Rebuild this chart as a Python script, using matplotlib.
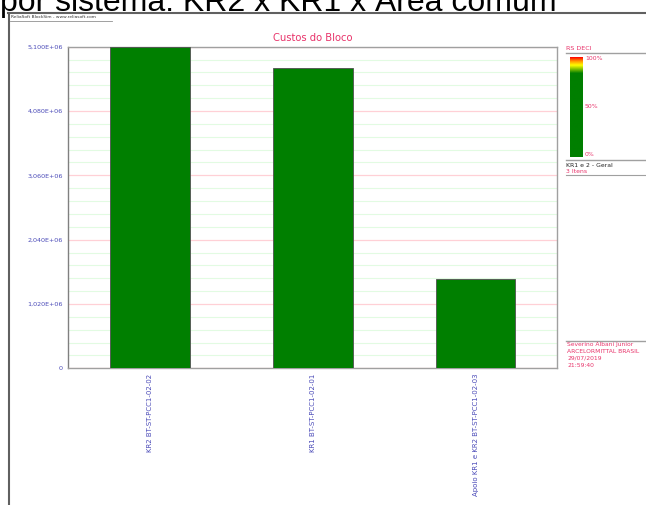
import matplotlib
matplotlib.use("Agg")
import matplotlib.pyplot as plt
import numpy as np
from matplotlib.colors import LinearSegmentedColormap
from matplotlib.lines import Line2D
from matplotlib.ticker import MultipleLocator, FuncFormatter

# block cost per system
categories = ["KR2 BT-ST-PCC1-02-02", "KR1 BT-ST-PCC1-02-01", "Apoio KR1 e KR2 BT-ST-PCC1-02-03"]
costs = [5.10e6, 4.77e6, 1.42e6]
y_ticks = [0, 1.02e6, 2.04e6, 3.06e6, 4.08e6, 5.10e6]
footer_lines = ["Severino Albani Junior", "ARCELORMITTAL BRASIL", "29/07/2019", "21:59:40"]

W, H = 646, 505
PINK = "#e8336a"
BLUE = "#4a4ab8"
GREEN = "#007f00"

fig = plt.figure(figsize=(W / 100, H / 100), dpi=100)
fig.patch.set_facecolor("white")


def px(x, y):
    # pixel coords (top-left origin) -> figure fraction
    return x / W, 1 - y / H


def hline(x0, x1, y, color="#808080", lw=1.0):
    (a, b), (c, _) = px(x0, y), px(x1, y)
    fig.add_artist(Line2D([a, c], [b, b], color=color, lw=lw))


# caption cut off at the top of the page
fig.text(*px(0, 10.5), "por sistema: KR2 x KR1 x Área comum", fontsize=23,
         family="Liberation Sans", color="black", va="baseline", ha="left")

# report frame
hline(8, W, 13, color="#606060", lw=1.5)
a, b = px(9, 13)
fig.add_artist(Line2D([a, a], [b, 0], color="#606060", lw=1.5))
fig.text(*px(11, 17), "ReliaSoft BlockSim - www.reliasoft.com", fontsize=3.2,
         color="#333333", va="center", ha="left")
hline(10, 112, 20.5, color="#909090", lw=0.6)

# main chart
l, t = 68.3, 46.7
r, btm = 557, 368.3
ax = fig.add_axes([l / W, 1 - btm / H, (r - l) / W, (btm - t) / H])
x = np.arange(len(categories)) + 0.5
ax.bar(x, costs, width=0.49, color=GREEN, edgecolor="#505050", linewidth=0.6, zorder=3)
ax.set_xlim(0, len(categories))
ax.set_ylim(0, y_ticks[-1])
ax.set_yticks(y_ticks)
ax.yaxis.set_minor_locator(MultipleLocator(y_ticks[1] / 5))
ax.yaxis.set_major_formatter(FuncFormatter(
    lambda v, _: "0" if v == 0 else f"{v:.3E}".replace(".", ",")))
ax.grid(which="minor", axis="y", color="#e2fbe2", lw=0.8, zorder=0)
ax.grid(which="major", axis="y", color="#ffd0d6", lw=0.9, zorder=1)
ax.set_xticks(x)
ax.set_xticklabels(categories, rotation=90, va="top", ha="center")
ax.tick_params(axis="y", length=0, labelsize=4.6, labelcolor=BLUE, pad=4)
ax.tick_params(axis="x", length=0, labelsize=5.0, labelcolor=BLUE, pad=4)
ax.tick_params(which="minor", length=0)
for side in ["top", "right", "bottom"]:
    ax.spines[side].set_color("#a0a0a0")
    ax.spines[side].set_linewidth(1.0)
ax.spines["left"].set_color("#808080")
ax.spines["left"].set_linewidth(1.0)
ax.set_title("Custos do Bloco", color=PINK, fontsize=7.2, pad=4)

# side panel: colour scale
fig.text(*px(566, 48.5), "RS DECI", fontsize=4.6, color=PINK, va="center", ha="left")
hline(566, W, 52.5, color="#a0a0a0", lw=1.0)
cax = fig.add_axes([570 / W, 1 - 157 / H, 13 / W, 100 / H])
cmap = LinearSegmentedColormap.from_list(
    "deci", [(0, GREEN), (0.84, GREEN), (0.92, "#ffff00"), (0.96, "#ff9900"), (1, "#ff0000")])
cax.imshow(np.linspace(1, 0, 256)[:, None], aspect="auto", cmap=cmap, vmin=0, vmax=1)
cax.set_axis_off()
for label, yy in [("100%", 59), ("50%", 107), ("0%", 155)]:
    fig.text(*px(585, yy), label, fontsize=4.4, color=PINK, va="center", ha="left")

hline(566, W, 160, color="#a0a0a0", lw=1.0)
fig.text(*px(566, 165), "KR1 e 2 - Geral", fontsize=4.4, color="#222222", va="center", ha="left")
fig.text(*px(566, 171), "3 Itens", fontsize=4.4, color=PINK, va="center", ha="left")
hline(566, W, 175, color="#a0a0a0", lw=0.8)

# side panel: author / timestamp
hline(566, W, 341, color="#a0a0a0", lw=1.0)
for i, line in enumerate(footer_lines):
    fig.text(*px(567, 344.5 + i * 7), line, fontsize=4.3, color=PINK, va="center", ha="left")

fig.savefig("out.png", dpi=100)
